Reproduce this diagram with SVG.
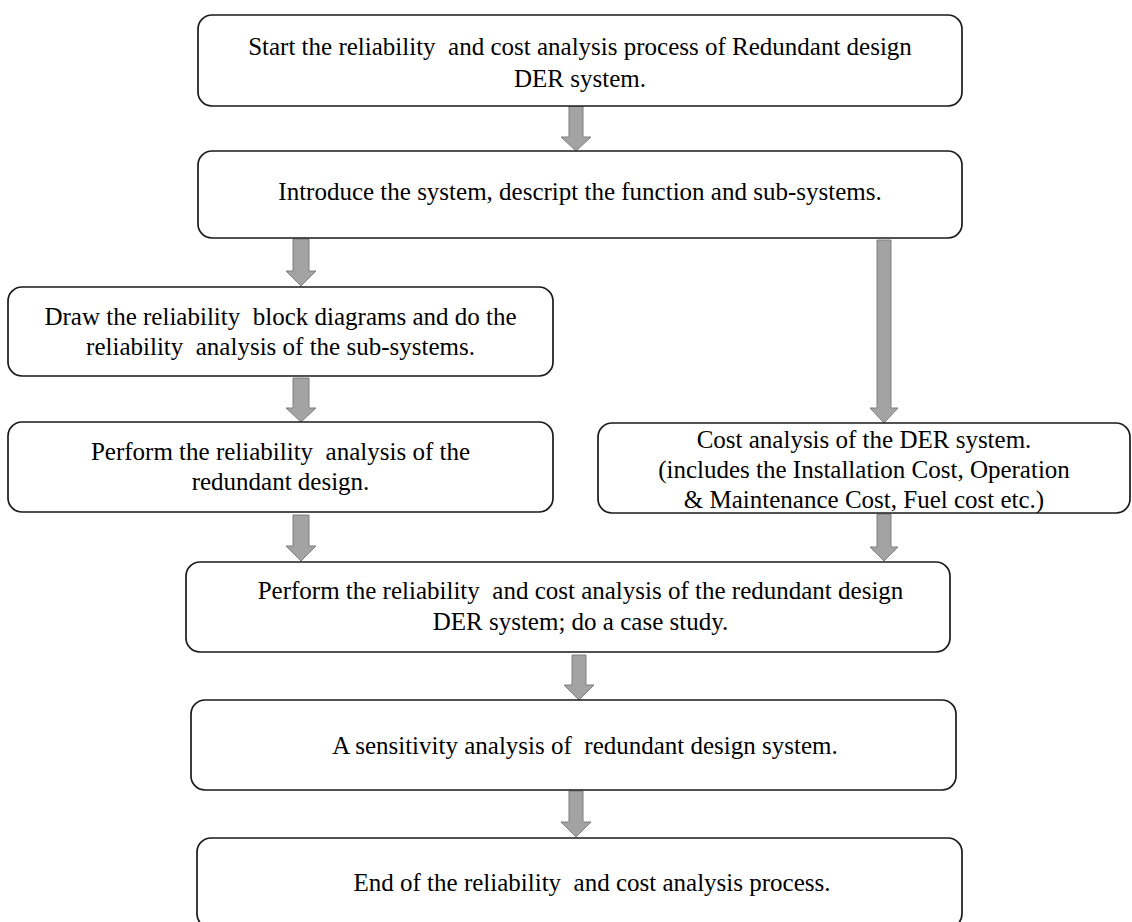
<svg xmlns="http://www.w3.org/2000/svg" width="1132" height="922" viewBox="0 0 1132 922">
  <style>
    .box { fill: #ffffff; stroke: #1a1a1a; stroke-width: 1.7; }
    .lbl { font-family: "Liberation Serif", "Times New Roman", serif; font-size: 25px; fill: #000000; text-anchor: middle; white-space: pre; }
    .arrow { fill: #a3a3a3; stroke: #7f7f7f; stroke-width: 1; }
  </style>
  <rect width="1132" height="922" fill="#ffffff"/>

  <!-- block arrows: shaft, then a triangular head ending on the next box -->
  <g id="connectors">
    <path class="arrow" d="M569 106 H583 V137 H591 L576 151 L561 137 H569 Z"/>
    <path class="arrow" d="M293 239 H309 V271 H316 L301 286 L286 271 H293 Z"/>
    <path class="arrow" d="M877 240 H891 V408 H898 L884 423 L870 408 H877 Z"/>
    <path class="arrow" d="M293 378 H309 V408 H316 L301 422 L286 408 H293 Z"/>
    <path class="arrow" d="M293 515 H309 V546 H316 L301 561 L286 546 H293 Z"/>
    <path class="arrow" d="M877 514 H891 V547 H898 L884 561 L870 547 H877 Z"/>
    <path class="arrow" d="M572 655 H586 V685 H594 L579 700 L564 685 H572 Z"/>
    <path class="arrow" d="M569 791 H583 V822 H591 L576 837 L561 822 H569 Z"/>
  </g>

  <g id="start">
    <rect class="box" x="198" y="15" width="764" height="91" rx="14"/>
    <text class="lbl" x="580" y="55">Start the reliability  and cost analysis process of Redundant design</text>
    <text class="lbl" x="580" y="87">DER system.</text>
  </g>

  <g id="introduce">
    <rect class="box" x="198" y="151" width="764" height="87" rx="14"/>
    <text class="lbl" x="580" y="200">Introduce the system, descript the function and sub-systems.</text>
  </g>

  <g id="rbd">
    <rect class="box" x="8" y="287" width="545" height="89" rx="14"/>
    <text class="lbl" x="280.5" y="325">Draw the reliability  block diagrams and do the</text>
    <text class="lbl" x="280.5" y="355">reliability  analysis of the sub-systems.</text>
  </g>

  <g id="redundant">
    <rect class="box" x="8" y="422" width="545" height="90" rx="14"/>
    <text class="lbl" x="280.5" y="460">Perform the reliability  analysis of the</text>
    <text class="lbl" x="280.5" y="490">redundant design.</text>
  </g>

  <g id="cost">
    <rect class="box" x="598" y="423" width="532" height="90" rx="14"/>
    <text class="lbl" x="864" y="448">Cost analysis of the DER system.</text>
    <text class="lbl" x="864" y="478">(includes the Installation Cost, Operation</text>
    <text class="lbl" x="864" y="508">&amp; Maintenance Cost, Fuel cost etc.)</text>
  </g>

  <g id="combined">
    <rect class="box" x="186" y="562" width="764" height="90" rx="14"/>
    <text class="lbl" x="580.5" y="599">Perform the reliability  and cost analysis of the redundant design</text>
    <text class="lbl" x="580.5" y="630">DER system; do a case study.</text>
  </g>

  <g id="sensitivity">
    <rect class="box" x="191" y="700" width="765" height="90" rx="14"/>
    <text class="lbl" x="585" y="754">A sensitivity analysis of  redundant design system.</text>
  </g>

  <g id="end">
    <rect class="box" x="197" y="838" width="765" height="90" rx="14"/>
    <text class="lbl" x="592" y="891">End of the reliability  and cost analysis process.</text>
  </g>
</svg>
